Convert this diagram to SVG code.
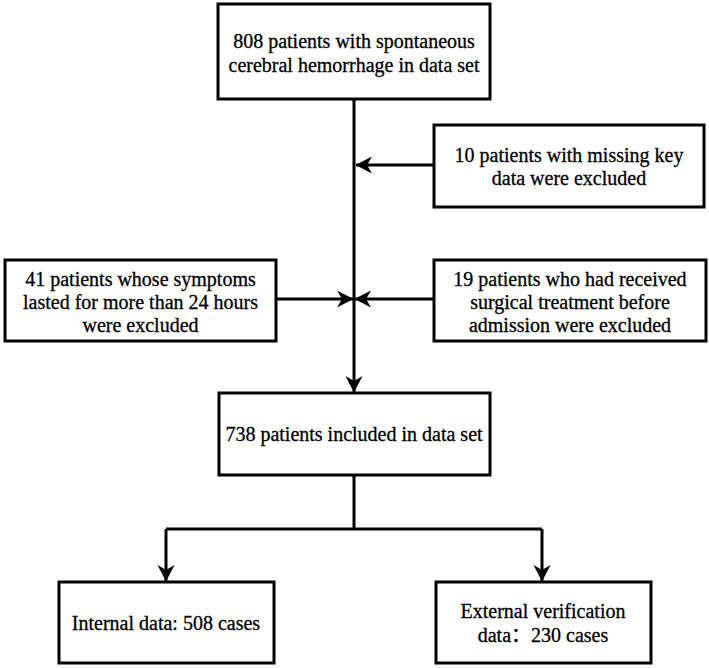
<svg xmlns="http://www.w3.org/2000/svg" width="709" height="668" viewBox="0 0 709 668">
<style>
.box{fill:#fff;stroke:#000;stroke-width:3}
.t{font-family:'Liberation Serif','Times New Roman',Times,'DejaVu Serif','Noto Sans CJK SC',serif;font-size:20px;fill:#000;stroke:#000;stroke-width:0.3;text-anchor:middle}
.c{fill:none;stroke:#000;stroke-width:3}
</style>
<defs>
<marker id="ah" markerUnits="userSpaceOnUse" markerWidth="17" markerHeight="18" viewBox="0 -9 17 18" refX="16" refY="0" orient="auto">
<path d="M0,-8.5 L16.5,0 L0,8.5 L5,0 Z" fill="#000"/>
</marker>
</defs>
<rect width="709" height="668" fill="#fff"/>
<g id="connectors">
<path class="c" d="M354,99 V392" marker-end="url(#ah)"/>
<path class="c" d="M434,165 H356" marker-end="url(#ah)"/>
<path class="c" d="M276,299 H353" marker-end="url(#ah)"/>
<path class="c" d="M434,299 H355" marker-end="url(#ah)"/>
<path class="c" d="M354,475 V529"/>
<path class="c" d="M166,529 H542"/>
<path class="c" d="M166,529 V581" marker-end="url(#ah)"/>
<path class="c" d="M542,529 V581" marker-end="url(#ah)"/>
</g>
<g font-family="Liberation Serif, serif">
<g id="n-start">
<rect class="box" x="218" y="4" width="272" height="95"/>
<text class="t" x="354" y="48">808 patients with spontaneous</text>
<text class="t" x="354" y="72">cerebral hemorrhage in data set</text>
</g>
<g id="n-missing">
<rect class="box" x="434" y="125" width="270" height="82"/>
<text class="t" x="569" y="162">10 patients with missing key</text>
<text class="t" x="569" y="185">data were excluded</text>
</g>
<g id="n-symptoms">
<rect class="box" x="5" y="260" width="271" height="81"/>
<text class="t" x="140.5" y="286">41 patients whose symptoms</text>
<text class="t" x="140.5" y="309">lasted for more than 24 hours</text>
<text class="t" x="140.5" y="332">were excluded</text>
</g>
<g id="n-surgical">
<rect class="box" x="434" y="260" width="272" height="81"/>
<text class="t" x="570" y="286">19 patients who had received</text>
<text class="t" x="570" y="309">surgical treatment before</text>
<text class="t" x="570" y="332">admission were excluded</text>
</g>
<g id="n-included">
<rect class="box" x="219" y="393" width="271" height="82"/>
<text class="t" x="354" y="441">738 patients included in data set</text>
</g>
<g id="n-internal">
<rect class="box" x="59" y="582" width="215" height="81"/>
<text class="t" x="166" y="630">Internal data: 508 cases</text>
</g>
<g id="n-external">
<rect class="box" x="436" y="582" width="215" height="81"/>
<text class="t" x="543" y="618">External verification</text>
<text class="t" x="543" y="642">data：230 cases</text>
</g>
</g>
</svg>
